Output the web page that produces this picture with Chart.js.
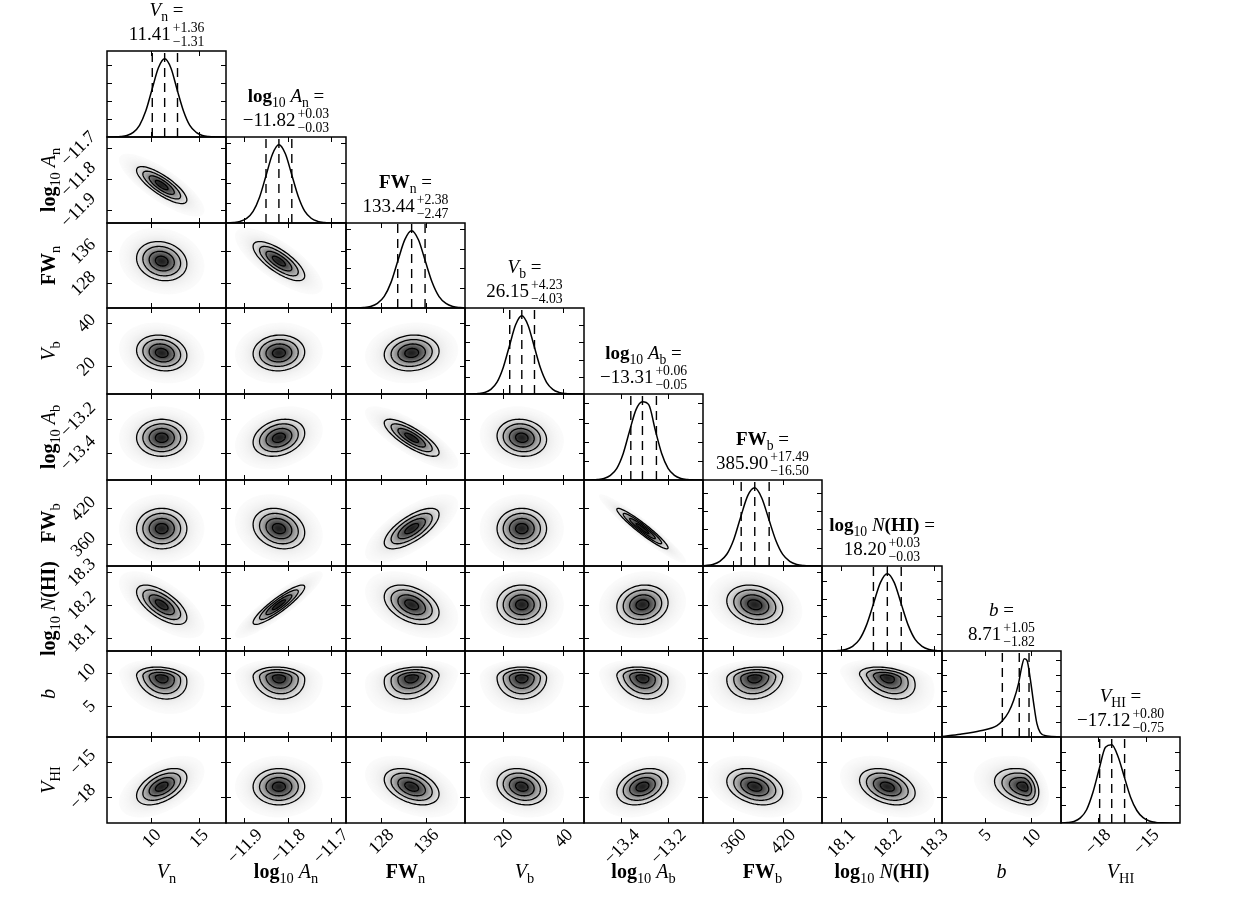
<!DOCTYPE html>
<html>
<head>
<meta charset="utf-8">
<script src="https://cdn.jsdelivr.net/npm/chart.js@4.4.0/dist/chart.umd.min.js"></script>
<style>
  body { margin: 0; background: #fff; }
  #fig { position: relative; width: 1250px; height: 900px; overflow: hidden; }
  #fig canvas { position: absolute; }
</style>
</head>
<body>
<div id="fig"></div>
<script>
// parameters, in corner order
const paramKeys = ["Vn", "logAn", "FWn", "Vb", "logAb", "FWb", "NHI", "b", "VHI"];
const axisMin = [5.31, -11.943, 121.8, 7.2, -13.561, 323, 18.059, 0.4, -20.27];
const axisMax = [17.9, -11.664, 142.9, 46.9, -13.05, 467.6, 18.318, 13.2, -12.88];

const tickValues = [[10, 15], [-11.9, -11.8, -11.7], [128, 136], [20, 40], [-13.4, -13.2],
                    [360, 420], [18.1, 18.2, 18.3], [5, 10], [-18, -15]];
const tickLabels = [["10", "15"], ["−11.9", "−11.8", "−11.7"], ["128", "136"], ["20", "40"], ["−13.4", "−13.2"],
                    ["360", "420"], ["18.1", "18.2", "18.3"], ["5", "10"], ["−18", "−15"]];

// quantiles (16, 50, 84 per cent) and title texts
const q16 = [10.10, -11.85, 130.97, 22.12, -13.36, 369.40, 18.17, 6.89, -17.87];
const q50 = [11.41, -11.82, 133.44, 26.15, -13.31, 385.90, 18.20, 8.71, -17.12];
const q84 = [12.77, -11.79, 135.82, 30.38, -13.25, 403.39, 18.23, 9.76, -16.32];
const medianText = ["11.41", "−11.82", "133.44", "26.15", "−13.31", "385.90", "18.20", "8.71", "−17.12"];
const errPlus = ["+1.36", "+0.03", "+2.38", "+4.23", "+0.06", "+17.49", "+0.03", "+1.05", "+0.80"];
const errMinus = ["−1.31", "−0.03", "−2.47", "−4.03", "−0.05", "−16.50", "−0.03", "−1.82", "−0.75"];

// 1d histograms (height relative to peak)
const vnHistX = [5.31, 6.09, 6.76, 7.42, 8.09, 8.75, 9.42, 10.08, 10.75, 11.41, 12.08, 12.74, 13.41, 14.07, 14.74, 15.40, 16.07, 16.73, 17.9];
const vnHistY = [0, 0.0015, 0.006, 0.02, 0.06, 0.15, 0.335, 0.61, 0.885, 1, 0.88, 0.60, 0.33, 0.148, 0.06, 0.02, 0.006, 0.0015, 0];
const logAnHistX = [-11.943, -11.94, -11.925, -11.91, -11.895, -11.88, -11.865, -11.85, -11.835, -11.82, -11.805, -11.79, -11.775, -11.76, -11.745, -11.73, -11.715, -11.70, -11.664];
const logAnHistY = [0, 0.0015, 0.006, 0.02, 0.058, 0.148, 0.33, 0.605, 0.88, 1, 0.885, 0.615, 0.34, 0.152, 0.061, 0.021, 0.006, 0.0015, 0];
const fwnHistX = [121.8, 123.72, 124.94, 126.15, 127.37, 128.58, 129.80, 131.01, 132.23, 133.44, 134.66, 135.87, 137.09, 138.30, 139.52, 140.73, 141.95, 142.9];
const fwnHistY = [0.0005, 0.0015, 0.006, 0.02, 0.06, 0.15, 0.335, 0.615, 0.885, 1, 0.88, 0.605, 0.33, 0.148, 0.06, 0.02, 0.006, 0.002];
const vbHistX = [7.2, 9.63, 11.70, 13.76, 15.83, 17.89, 19.96, 22.02, 24.09, 26.15, 28.22, 30.28, 32.35, 34.41, 36.48, 38.54, 40.61, 42.67, 46.9];
const vbHistY = [0, 0.0015, 0.006, 0.02, 0.06, 0.152, 0.34, 0.615, 0.885, 1, 0.88, 0.61, 0.335, 0.15, 0.06, 0.021, 0.006, 0.0015, 0];
const logAbHistX = [-13.561, -13.53, -13.5025, -13.475, -13.4475, -13.42, -13.3925, -13.365, -13.3375, -13.31, -13.2825, -13.255, -13.2275, -13.20, -13.1725, -13.145, -13.1175, -13.09, -13.05];
const logAbHistY = [0, 0.0015, 0.006, 0.02, 0.06, 0.15, 0.34, 0.63, 0.90, 1, 0.96, 0.64, 0.34, 0.15, 0.06, 0.02, 0.006, 0.0015, 0];
const fwbHistX = [323, 326.4, 334.9, 343.4, 351.9, 360.4, 368.9, 377.4, 385.9, 394.4, 402.9, 411.4, 419.9, 428.4, 436.9, 445.4, 453.9, 467.6];
const fwbHistY = [0.003, 0.006, 0.02, 0.06, 0.15, 0.34, 0.63, 0.90, 1, 0.87, 0.60, 0.33, 0.148, 0.06, 0.02, 0.006, 0.0015, 0];
const nhiHistX = [18.059, 18.08, 18.095, 18.11, 18.125, 18.14, 18.155, 18.17, 18.185, 18.20, 18.215, 18.23, 18.245, 18.26, 18.275, 18.29, 18.305, 18.318];
const nhiHistY = [0, 0.0015, 0.006, 0.02, 0.06, 0.15, 0.335, 0.61, 0.885, 1, 0.885, 0.61, 0.335, 0.15, 0.06, 0.02, 0.006, 0.002];
const bHistX = [0.4, 2.37, 4.52, 6.31, 6.92, 7.57, 8.11, 8.64, 9.0, 9.25, 9.54, 9.90, 10.26, 10.61, 10.97, 11.69, 13.2];
const bHistY = [0.006, 0.035, 0.079, 0.145, 0.21, 0.32, 0.47, 0.69, 0.91, 1.0, 0.98, 0.74, 0.43, 0.17, 0.057, 0.013, 0];
const vhiHistX = [-20.27, -20.24, -19.85, -19.46, -19.07, -18.68, -18.29, -17.90, -17.51, -17.12, -16.73, -16.34, -15.95, -15.56, -15.17, -14.78, -14.39, -14.00, -12.88];
const vhiHistY = [0, 0.0015, 0.006, 0.02, 0.065, 0.17, 0.39, 0.69, 0.97, 1.0, 0.85, 0.59, 0.33, 0.16, 0.068, 0.025, 0.008, 0.003, 0];

const histXs = [vnHistX, logAnHistX, fwnHistX, vbHistX, logAbHistX, fwbHistX, nhiHistX, bHistX, vhiHistX];
const histYs = [vnHistY, logAnHistY, fwnHistY, vbHistY, logAbHistY, fwbHistY, nhiHistY, bHistY, vhiHistY];
const histTickStep = [0.23, 0.256, 0.256, 0.22, 0.245, 0.234, 0.225, 0.198, 0.228];

// 2d contours: centre, spread below / above, correlation (lower triangle)
const center2d = [11.1, -11.82, 133.44, 26.15, -13.31, 385.90, 18.20, 9.25, -17.15];
const sigLo = [1.33, 0.03, 2.43, 4.13, 0.055, 17.0, 0.03, 1.6, 0.78];
const sigHi = [1.33, 0.03, 2.43, 4.13, 0.055, 17.0, 0.03, 0.78, 0.78];
const corrRows = [
  [],
  [-0.8],
  [-0.15, -0.75],
  [-0.15, 0.05, 0.1],
  [0, 0.25, -0.8, -0.1],
  [0, -0.2, 0.7, 0, -0.95],
  [-0.65, 0.9, -0.4, 0, 0.1, -0.2],
  [-0.2, -0.1, 0.2, 0, -0.2, 0.1, -0.35],
  [0.5, 0, -0.4, -0.2, 0.3, -0.3, -0.35, -0.3]
];
const contourLevels = [0.5, 1, 1.5, 2];

const paramLabels = [
  [{t: "V", it: 1}, {t: "n", sub: 1}],
  [{t: "log", bf: 1}, {t: "10", sub: 1}, {t: " "}, {t: "A", it: 1}, {t: "n", sub: 1}],
  [{t: "FW", bf: 1}, {t: "n", sub: 1}],
  [{t: "V", it: 1}, {t: "b", sub: 1}],
  [{t: "log", bf: 1}, {t: "10", sub: 1}, {t: " "}, {t: "A", it: 1}, {t: "b", sub: 1}],
  [{t: "FW", bf: 1}, {t: "b", sub: 1}],
  [{t: "log", bf: 1}, {t: "10", sub: 1}, {t: " "}, {t: "N", it: 1}, {t: "(HI)", bf: 1}],
  [{t: "b", it: 1}],
  [{t: "V", it: 1}, {t: "HI", sub: 1}]
];

const FONT = '"Liberation Serif", "DejaVu Serif", serif';
const TICK_SIZE = 18, TITLE_SIZE = 19, LABEL_SIZE = 20;

// layout of the grid
const colEdges = [], rowEdges = [];
for (let k = 0; k <= 9; k++) {
  colEdges.push(Math.round(107.3 + k * 119.19));
  rowEdges.push(Math.round(51 + k * 85.78));
}

function fontFor(seg, size) {
  const s = (seg.sub || seg.sup) ? size * 0.72 : size;
  return (seg.it ? "italic " : "") + (seg.bf ? "bold " : "") + s.toFixed(1) + "px " + FONT;
}
function segWidth(ctx, seg, size) {
  if (seg.stack) {
    ctx.font = fontFor({sub: 1}, size);
    return Math.max(ctx.measureText(seg.stack[0]).width, ctx.measureText(seg.stack[1]).width) + 2;
  }
  ctx.font = fontFor(seg, size);
  return ctx.measureText(seg.t).width;
}
function richWidth(ctx, segs, size) {
  return segs.reduce((a, s) => a + segWidth(ctx, s, size), 0);
}
function drawRich(ctx, segs, x, y, size) {
  ctx.textAlign = "left";
  ctx.textBaseline = "alphabetic";
  for (const s of segs) {
    const w = segWidth(ctx, s, size);
    if (s.stack) {
      ctx.font = fontFor({sub: 1}, size);
      ctx.fillText(s.stack[0], x + 2, y - size * 0.44);
      ctx.fillText(s.stack[1], x + 2, y + size * 0.3);
    } else {
      ctx.font = fontFor(s, size);
      const dy = s.sub ? size * 0.25 : (s.sup ? -size * 0.4 : 0);
      ctx.fillText(s.t, x, y + dy);
    }
    x += w;
  }
}

function rotBox(ctx, text) {
  ctx.font = TICK_SIZE + "px " + FONT;
  return (ctx.measureText(text).width + TICK_SIZE * 0.72) / Math.SQRT2;
}
function rotatedLabel(ctx, text, cx, cy) {
  ctx.save();
  ctx.translate(cx, cy);
  ctx.rotate(-Math.PI / 4);
  ctx.font = TICK_SIZE + "px " + FONT;
  ctx.textAlign = "center";
  ctx.textBaseline = "middle";
  ctx.fillText(text, 0, 1);
  ctx.restore();
}

function histTicks(k) {
  const out = [];
  for (let v = histTickStep[k]; v < 1.08; v += histTickStep[k]) out.push(v);
  return out;
}

function grayFor(r) {
  let v;
  if (r <= 2) v = 1 - 0.88 * Math.exp(-r * r / 2);
  else v = 1 - 0.1 * Math.exp(-(r - 2) * 1.3);
  const g = Math.round(255 * v);
  return "rgb(" + g + "," + g + "," + g + ")";
}

function contourPath(ctx, xs, ys, i, j, r) {
  const rho = corrRows[i][j];
  const s = Math.sqrt(1 - rho * rho);
  ctx.beginPath();
  for (let n = 0; n <= 90; n++) {
    const t = n / 90 * 2 * Math.PI;
    const zx = r * Math.cos(t);
    const zy = r * (rho * Math.cos(t) + s * Math.sin(t));
    const dx = zx * (zx < 0 ? sigLo[j] : sigHi[j]);
    const dy = zy * (zy < 0 ? sigLo[i] : sigHi[i]);
    const px = xs.getPixelForValue(center2d[j] + dx);
    const py = ys.getPixelForValue(center2d[i] + dy);
    if (n) ctx.lineTo(px, py); else ctx.moveTo(px, py);
  }
  ctx.closePath();
}

function drawDensity(chart, i, j) {
  const ctx = chart.ctx, a = chart.chartArea;
  const xs = chart.scales.x, ys = chart.scales.y;
  ctx.save();
  ctx.beginPath();
  ctx.rect(a.left, a.top, a.right - a.left, a.bottom - a.top);
  ctx.clip();
  for (let r = 3.4; r > 0.04; r -= 0.1) {
    contourPath(ctx, xs, ys, i, j, r);
    ctx.fillStyle = grayFor(r);
    ctx.fill();
  }
  ctx.strokeStyle = "#000";
  ctx.lineWidth = 1.3;
  for (const r of contourLevels) {
    contourPath(ctx, xs, ys, i, j, r);
    ctx.stroke();
  }
  ctx.restore();
}

function drawFrame(chart, i, j) {
  const ctx = chart.ctx, a = chart.chartArea;
  const xs = chart.scales.x, ys = chart.scales.y;
  ctx.save();
  ctx.strokeStyle = "#000";
  ctx.fillStyle = "#000";
  ctx.lineWidth = 1;
  ctx.beginPath();
  for (const v of tickValues[j]) {
    const x = Math.round(xs.getPixelForValue(v)) + 0.5;
    ctx.moveTo(x, a.bottom); ctx.lineTo(x, a.bottom - 5);
    ctx.moveTo(x, a.top); ctx.lineTo(x, a.top + 5);
  }
  const yt = i === j ? histTicks(j) : tickValues[i];
  for (const v of yt) {
    const y = Math.round(ys.getPixelForValue(v)) + 0.5;
    ctx.moveTo(a.left, y); ctx.lineTo(a.left + 5, y);
    ctx.moveTo(a.right, y); ctx.lineTo(a.right - 5, y);
  }
  ctx.stroke();
  ctx.lineWidth = 1.5;
  ctx.strokeRect(a.left, a.top, a.right - a.left, a.bottom - a.top);

  // bottom tick labels and axis label
  if (i === 8) {
    tickValues[j].forEach((v, n) => {
      const box = rotBox(ctx, tickLabels[j][n]);
      rotatedLabel(ctx, tickLabels[j][n], xs.getPixelForValue(v), a.bottom + 4 + box / 2);
    });
    const w = richWidth(ctx, paramLabels[j], LABEL_SIZE);
    drawRich(ctx, paramLabels[j], (a.left + a.right) / 2 - w / 2, a.bottom + 55, LABEL_SIZE);
  }
  // left tick labels and axis label
  if (j === 0 && i > 0) {
    tickValues[i].forEach((v, n) => {
      const box = rotBox(ctx, tickLabels[i][n]);
      rotatedLabel(ctx, tickLabels[i][n], a.left - 10 - box / 2, ys.getPixelForValue(v));
    });
    const w = richWidth(ctx, paramLabels[i], LABEL_SIZE);
    ctx.save();
    ctx.translate(a.left - 52, (a.top + a.bottom) / 2);
    ctx.rotate(-Math.PI / 2);
    drawRich(ctx, paramLabels[i], -w / 2, 0, LABEL_SIZE);
    ctx.restore();
  }
  // title over the diagonal
  if (i === j) {
    const cx = (a.left + a.right) / 2;
    const line1 = paramLabels[j].concat([{t: " ="}]);
    const line2 = [{t: medianText[j]}, {stack: [errPlus[j], errMinus[j]]}];
    drawRich(ctx, line1, cx - richWidth(ctx, line1, TITLE_SIZE) / 2, a.top - 35, TITLE_SIZE);
    drawRich(ctx, line2, cx - richWidth(ctx, line2, TITLE_SIZE) / 2, a.top - 11, TITLE_SIZE);
  }
  ctx.restore();
}

const fig = document.getElementById("fig");

function makePanel(i, j) {
  const L = colEdges[j], R = colEdges[j + 1], T = rowEdges[i], B = rowEdges[i + 1];
  const left0 = j === 0 && i > 0;
  const pl = left0 ? 107 : (i === j ? 30 : 4);
  const pr = (i === j || i === 8) ? 30 : 4;
  const pt = i === j ? 52 : (left0 ? 24 : 4);
  const pb = i === 8 ? 78 : (left0 ? 24 : 4);
  const canvas = document.createElement("canvas");
  canvas.width = (R - L) + pl + pr;
  canvas.height = (B - T) + pt + pb;
  canvas.style.left = (L - pl) + "px";
  canvas.style.top = (T - pt) + "px";
  fig.appendChild(canvas);

  const datasets = [];
  let yMin = axisMin[i], yMax = axisMax[i];
  if (i === j) {
    yMin = 0; yMax = 1.1;
    datasets.push({
      data: histXs[j].map((x, n) => ({x: x, y: histYs[j][n]})),
      showLine: true, borderColor: "#000", borderWidth: 1.5, pointRadius: 0,
      cubicInterpolationMode: "monotone", fill: false
    });
    for (const q of [q16, q50, q84]) {
      datasets.push({
        data: [{x: q[j], y: 0}, {x: q[j], y: 1.1}],
        showLine: true, borderColor: "#000", borderWidth: 1.4, pointRadius: 0,
        borderDash: [9, 6], fill: false
      });
    }
  }

  new Chart(canvas.getContext("2d"), {
    type: "scatter",
    data: {datasets: datasets},
    options: {
      responsive: false,
      animation: false,
      devicePixelRatio: 1,
      events: [],
      layout: {padding: {left: pl, right: pr, top: pt, bottom: pb}},
      plugins: {legend: {display: false}, tooltip: {enabled: false}},
      scales: {
        x: {type: "linear", min: axisMin[j], max: axisMax[j], display: false},
        y: {type: "linear", min: yMin, max: yMax, display: false}
      }
    },
    plugins: [{
      id: "corner" + i + "_" + j,
      beforeDatasetsDraw(chart) { if (i !== j) drawDensity(chart, i, j); },
      afterDraw(chart) { drawFrame(chart, i, j); }
    }]
  });
}

for (let i = 0; i < 9; i++) {
  for (let j = 0; j <= i; j++) makePanel(i, j);
}
</script>
</body>
</html>
